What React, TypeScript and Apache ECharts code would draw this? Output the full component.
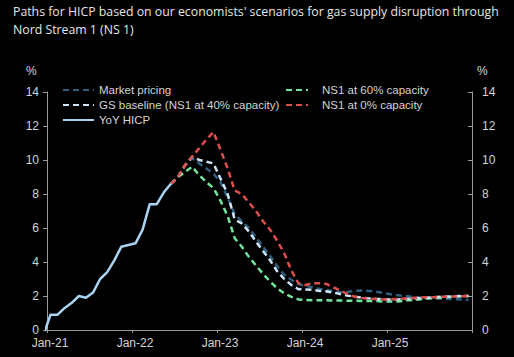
import React, { useEffect, useRef } from "react";
import * as echarts from "echarts";

// Month index: 0 = Jan-21. Values are plotted mid-month (index + 0.5).
const xTickLabels = ["Jan-21", "Jan-22", "Jan-23", "Jan-24", "Jan-25", ""];

// YoY HICP, starting Dec-20 (index -1)
const hicpStart = -1;
const hicp = [-0.3, 0.9, 0.9, 1.3, 1.6, 2.0, 1.9, 2.2, 3.0, 3.4, 4.1, 4.9, 5.0, 5.1, 5.9, 7.4, 7.4, 8.1, 8.6];

// Scenarios, starting Jun-22 (index 17)
const scenStart = 17;
const marketPricing = [8.6, 9.0, 9.7, 10.1, 9.8, 9.5, 9.2, 8.7, 7.8, 6.8, 6.4, 6.0, 5.45, 4.9, 4.35, 3.75, 3.25, 2.95, 2.7,
  2.6, 2.5, 2.42, 2.35, 2.28, 2.22, 2.25, 2.3, 2.33, 2.3, 2.25, 2.18,
  2.1, 2.05, 2.0, 1.96, 1.92, 1.9, 1.87, 1.85, 1.83, 1.81, 1.79, 1.77];
const gsBaseline = [8.6, 9.0, 9.7, 10.2, 10.0, 9.9, 9.8, 8.9, 8.0, 6.5, 6.27, 5.8, 5.2, 4.65, 4.1, 3.45, 3.0, 2.65, 2.4,
  2.38, 2.36, 2.3, 2.27, 2.2, 2.1, 2.02, 1.95, 1.9, 1.86, 1.83, 1.81,
  1.8, 1.8, 1.82, 1.84, 1.87, 1.89, 1.92, 1.95, 1.97, 1.98, 2.0, 2.0];
const ns1At60 = [8.6, 9.0, 9.3, 9.6, 9.1, 8.7, 8.35, 7.6, 6.7, 5.4, 4.9, 4.3, 3.8, 3.3, 2.85, 2.45, 2.15, 1.95, 1.8,
  1.77, 1.75, 1.75, 1.75, 1.74, 1.73, 1.72, 1.72, 1.71, 1.7, 1.7, 1.68,
  1.67, 1.68, 1.72, 1.76, 1.8, 1.84, 1.87, 1.9, 1.93, 1.96, 1.98, 2.0];
const ns1At0 = [8.6, 9.0, 9.7, 10.2, 10.7, 11.2, 11.65, 10.6, 9.5, 8.2, 8.0, 7.5, 7.0, 6.4, 5.9, 5.25, 4.5, 3.5, 2.75,
  2.65, 2.75, 2.75, 2.7, 2.5, 2.3, 2.1, 1.95, 1.88, 1.85, 1.82, 1.8,
  1.8, 1.82, 1.85, 1.88, 1.9, 1.92, 1.93, 1.95, 1.96, 1.97, 1.98, 2.0];

const toPairs = (vals: number[], start: number) => vals.map((v, i) => [start + i + 0.5, v]);

export default function App() {
  const ref = useRef<HTMLDivElement>(null);
  useEffect(() => {
    if (!ref.current) return;
    const chart = echarts.init(ref.current, null, { renderer: "svg" });
    const axisColor = "#9a9a9a";
    const labelColor = "#d4d4d4";
    const font = "Liberation Sans";
    const dash = [6, 4];
    const yAxisBase = {
      type: "value" as const,
      min: 0,
      max: 14,
      interval: 2,
      splitLine: { show: false },
      axisLine: { show: true, lineStyle: { color: axisColor, width: 1 } },
      axisLabel: { color: labelColor, fontSize: 12, fontFamily: font, margin: 8 },
    };
    const mk = (name: string, vals: number[], start: number, color: string, type: any, z: number) => ({
      name,
      type: "line",
      symbol: "none",
      data: toPairs(vals, start),
      lineStyle: { color, width: 2.5, type },
      itemStyle: { color, opacity: 0 },
      z,
    });
    chart.setOption({
      animation: false,
      backgroundColor: "#000000",
      grid: { left: 47, right: 42, top: 92, bottom: 27 },
      xAxis: {
        type: "value",
        min: 0,
        max: 60,
        interval: 12,
        splitLine: { show: false },
        axisLine: { lineStyle: { color: axisColor, width: 1 } },
        axisTick: { show: true, length: 3, lineStyle: { color: axisColor } },
        axisLabel: {
          color: labelColor,
          fontSize: 12,
          fontFamily: font,
          margin: 7,
          padding: [0, 0, 0, 6],
          formatter: (v: number) => xTickLabels[Math.round(v / 12)] ?? "",
        },
      },
      yAxis: [
        { ...yAxisBase, position: "left", axisTick: { show: true, length: 4, lineStyle: { color: axisColor } } },
        {
          ...yAxisBase,
          position: "right",
          axisTick: { show: true, inside: true, length: 4, lineStyle: { color: axisColor } },
          axisLabel: { ...yAxisBase.axisLabel, margin: 10 },
        },
      ],
      legend: [
        {
          left: 57,
          top: 79,
          orient: "vertical",
          itemWidth: 31,
          itemHeight: 10,
          itemGap: 3,
          data: ["Market pricing", "GS baseline (NS1 at 40% capacity)", "YoY HICP"],
          textStyle: { color: labelColor, fontSize: 11.5, fontFamily: font },
        },
        {
          left: 280,
          top: 79,
          orient: "vertical",
          itemWidth: 22,
          itemHeight: 10,
          itemGap: 3,
          data: ["NS1 at 60% capacity", "NS1 at 0% capacity"],
          textStyle: { color: labelColor, fontSize: 11.5, fontFamily: font, padding: [0, 0, 0, 9] },
        },
      ],
      graphic: [
        {
          type: "text",
          left: 13,
          top: 2,
          style: {
            text: "Paths for HICP based on our economists' scenarios for gas supply disruption through\nNord Stream 1 (NS 1)",
            fill: "#e6e6e6",
            fontSize: 12.3,
            lineHeight: 18,
            fontFamily: "Open Sans",
          },
        },
        { type: "text", left: 26, top: 65, style: { text: "%", fill: labelColor, fontSize: 12, fontFamily: font } },
        { type: "text", left: 477, top: 65, style: { text: "%", fill: labelColor, fontSize: 12, fontFamily: font } },
      ],
      series: [
        mk("Market pricing", marketPricing, scenStart, "#2f5f7e", dash, 2),
        mk("NS1 at 60% capacity", ns1At60, scenStart, "#72e49c", dash, 3),
        mk("GS baseline (NS1 at 40% capacity)", gsBaseline, scenStart, "#cde5fb", dash, 4),
        mk("NS1 at 0% capacity", ns1At0, scenStart, "#dd4f4c", dash, 5),
        mk("YoY HICP", hicp, hicpStart, "#a8d3f3", "solid", 6),
      ],
    });
    return () => chart.dispose();
  }, []);
  return <div ref={ref} style={{ width: 514, height: 357, position: "absolute", left: 0, top: 0 }} />;
}
